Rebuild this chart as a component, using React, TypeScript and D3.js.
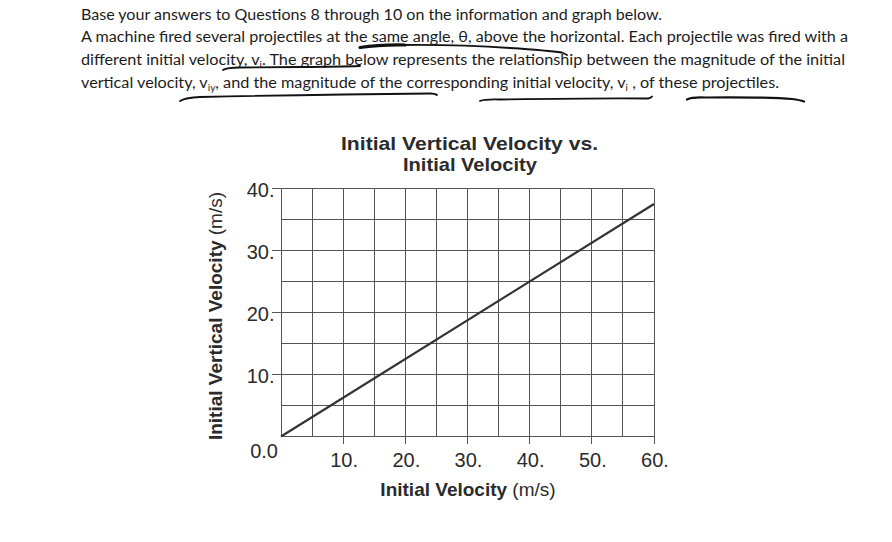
import React from "react";
import * as d3 from "d3";

// ---- data ----
const initialVelocity = [0, 60];
const verticalVelocity = [0, 37.5];
const xTickValues = [10, 20, 30, 40, 50, 60];
const xTickLabels = ["10.", "20.", "30.", "40.", "50.", "60."];
const yTickValues = [10, 20, 30, 40];
const yTickLabels = ["10.", "20.", "30.", "40."];
const xGridValues = d3.range(0, 61, 5);
const yGridValues = d3.range(0, 41, 5);

const titleLines = ["Initial Vertical Velocity vs.", "Initial Velocity"];

const W = 892;
const H = 542;
const plot = { left: 281, right: 654, top: 188.5, bottom: 436.5 };

const x = d3.scaleLinear().domain([0, 60]).range([plot.left, plot.right]);
const y = d3.scaleLinear().domain([0, 40]).range([plot.bottom, plot.top]);

const lineGen = d3
  .line<number>()
  .x((d) => x(d))
  .y((_d, i) => y(verticalVelocity[i]));

const headerFont = "Lato, 'Open Sans', sans-serif";
const chartFont = "'Liberation Sans', Arial, Helvetica, sans-serif";

const Sub = ({ children }: { children: React.ReactNode }) => (
  <tspan fontSize={9.5} dy={3}>
    {children}
  </tspan>
);

export default function App() {
  const ink = "#1c1c1c";
  const chartInk = "#2b2b2b";
  const grid = "#555";
  return (
    <svg
      width={W}
      height={H}
      style={{ position: "absolute", left: 0, top: 0, background: "#fff" }}
    >
      {/* header text */}
      <g fontFamily={headerFont} fontSize={15.5} fill={ink}>
        <text x={81} y={20} textLength={581} lengthAdjust="spacingAndGlyphs">
          Base your answers to Questions 8 through 10 on the information and graph below.
        </text>
        <text x={81} y={42} textLength={767} lengthAdjust="spacingAndGlyphs">
          A machine fired several projectiles at the same angle, θ, above the horizontal. Each projectile was fired with a
        </text>
        <text x={81} y={64.5} textLength={764} lengthAdjust="spacingAndGlyphs">
          different initial velocity, v<Sub>i</Sub>
          <tspan dy={-3}>. The graph below represents the relationship between the magnitude of the initial</tspan>
        </text>
        <text x={81} y={88} textLength={698} lengthAdjust="spacingAndGlyphs">
          vertical velocity, v<Sub>iy</Sub>
          <tspan dy={-3}>, and the magnitude of the corresponding initial velocity, v</tspan>
          <Sub>i</Sub>
          <tspan dy={-3}> , of these projectiles.</tspan>
        </text>
      </g>

      {/* hand-drawn underlines */}
      <g fill="none" stroke="#111" strokeLinecap="round">
        <path d="M360,47.5 Q380,44.5 405,45" strokeWidth={3.2} />
        <path d="M403,45 Q460,44.5 510,48 Q548,50.5 562,52.5 L567,55" strokeWidth={1.8} />
        <path d="M223,70 Q227,67.5 240,67.5 L300,67 Q340,66.5 360,66" strokeWidth={1.8} />
        <path d="M180,101 Q186,97.5 200,97 Q320,94.5 430,93.5 Q435,93.5 437,95" strokeWidth={1.8} />
        <path d="M480,101 Q485,99 500,99.5 Q600,98 648,98.5 Q651,98 652,96.5" strokeWidth={1.8} />
        <path d="M687,99.5 Q692,97 705,97.5 Q770,97 792,99 Q800,100 804,101.5" strokeWidth={2.2} />
      </g>

      {/* title */}
      <g fontFamily={chartFont} fontWeight="bold" fontSize={18.5} fill={chartInk} textAnchor="middle">
        <text x={469.5} y={149.5} textLength={257} lengthAdjust="spacingAndGlyphs">
          {titleLines[0]}
        </text>
        <text x={470} y={170.5} textLength={134} lengthAdjust="spacingAndGlyphs">
          {titleLines[1]}
        </text>
      </g>

      {/* grid */}
      <g stroke={grid} strokeWidth={1} shapeRendering="crispEdges">
        {xGridValues.map((v) => (
          <line key={"gx" + v} x1={x(v)} x2={x(v)} y1={plot.top} y2={plot.bottom} />
        ))}
        {yGridValues.map((v) => (
          <line key={"gy" + v} x1={plot.left} x2={plot.right} y1={y(v)} y2={y(v)} />
        ))}
        {xTickValues.map((v) => (
          <line key={"tx" + v} x1={x(v)} x2={x(v)} y1={plot.bottom} y2={plot.bottom + 7} />
        ))}
        {yTickValues.map((v) => (
          <line key={"ty" + v} x1={plot.left - 9} x2={plot.left} y1={y(v)} y2={y(v)} />
        ))}
      </g>

      {/* data line */}
      <path
        d={lineGen(initialVelocity) || ""}
        fill="none"
        stroke="#333"
        strokeWidth={2.2}
      />

      {/* tick labels */}
      <g fontFamily={chartFont} fontSize={20} fill={chartInk}>
        {xTickValues.map((v, i) => (
          <text key={"lx" + v} x={x(v) + 1} y={plot.bottom + 30.5} textAnchor="middle">
            {xTickLabels[i]}
          </text>
        ))}
        {yTickValues.map((v, i) => (
          <text key={"ly" + v} x={plot.left - 6.5} y={y(v) + 8.5} textAnchor="end">
            {yTickLabels[i]}
          </text>
        ))}
        <text x={plot.left - 3} y={plot.bottom + 21} textAnchor="end">
          0.0
        </text>
      </g>

      {/* axis titles */}
      <g fontFamily={chartFont} fontSize={19} fill={chartInk}>
        <text x={468} y={496} textAnchor="middle">
          <tspan fontWeight="bold">Initial Velocity</tspan> (m/s)
        </text>
        <text transform={`translate(222,316) rotate(-90)`} textAnchor="middle">
          <tspan fontWeight="bold">Initial Vertical Velocity</tspan> (m/s)
        </text>
      </g>
    </svg>
  );
}
